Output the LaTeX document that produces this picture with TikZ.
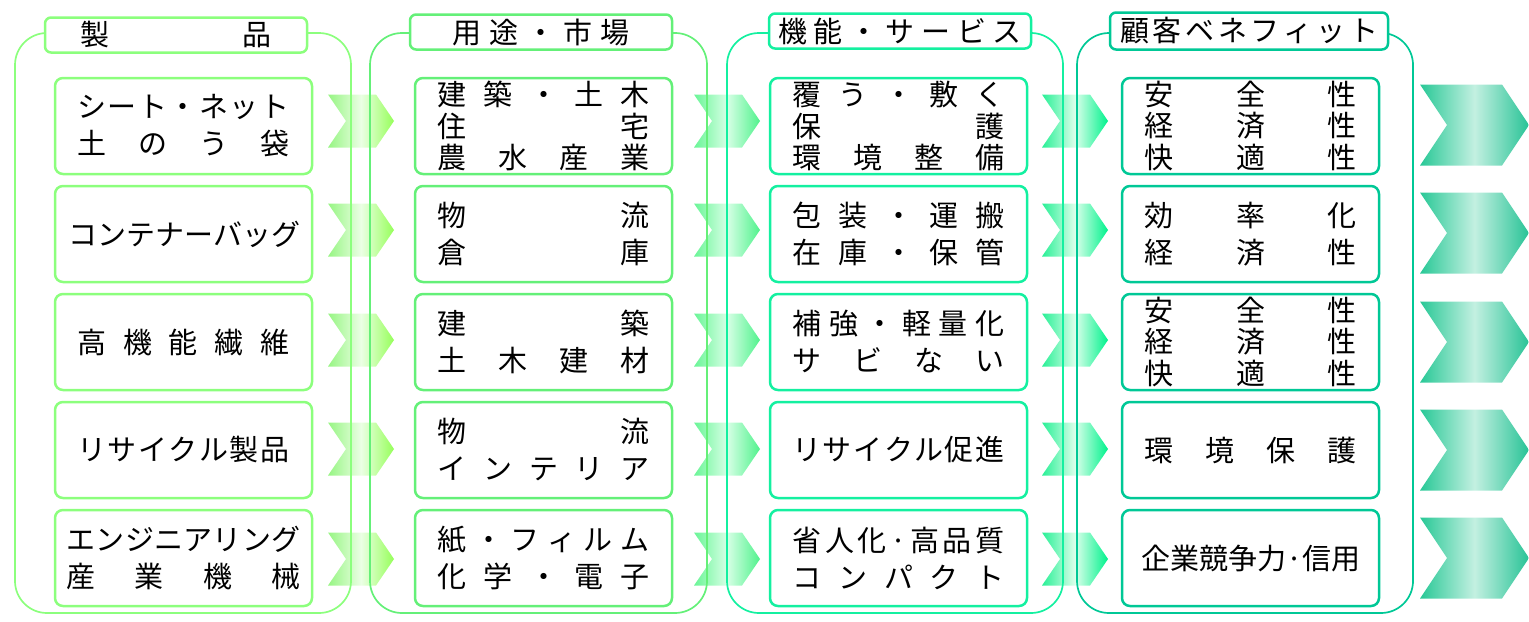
\documentclass[tikz,border=0pt]{standalone}
\usepackage{fontspec}
\newfontfamily\jpfont{Noto Sans CJK JP}
\usetikzlibrary{positioning}

\definecolor{prodc}{RGB}{140,255,125}
\definecolor{mktc}{RGB}{100,240,120}
\definecolor{funcc}{RGB}{20,240,160}
\definecolor{benc}{RGB}{0,200,150}
\definecolor{chAl}{RGB}{150,245,130}
\definecolor{chAm}{RGB}{235,255,228}
\definecolor{chAr}{RGB}{150,255,90}
\definecolor{chBl}{RGB}{105,245,150}
\definecolor{chBm}{RGB}{215,255,230}
\definecolor{chBr}{RGB}{80,242,140}
\definecolor{chCl}{RGB}{40,240,150}
\definecolor{chCm}{RGB}{220,255,235}
\definecolor{chCr}{RGB}{0,242,140}
\definecolor{chDl}{RGB}{40,200,150}
\definecolor{chDm}{RGB}{195,240,225}
\definecolor{chDr}{RGB}{40,195,150}

% spread the letters of one line over a fixed width
\newcommand\jl[2][106pt]{\makebox[#1][s]{\jlloop#2\relax}}
\def\jlloop#1#2{#1\ifx\relax#2\else\hfill\expandafter\jlloop\fi#2}

\tikzset{node distance=54pt,
    box/.style={
        draw, line width=1.25pt, rounded corners=4pt,
        minimum width=128.5pt, minimum height=48pt,
        inner sep=0pt, align=center,
        font={\jpfont\fontsize{14.5pt}{18.5pt}\selectfont}},
    tight/.style={
        font={\jpfont\fontsize{14.5pt}{15.8pt}\selectfont}},
    head/.style={
        draw, fill=white, line width=1.25pt, rounded corners=3pt,
        minimum width=131pt, minimum height=17.5pt, inner sep=0pt,
        font={\jpfont\fontsize{14.5pt}{16pt}\selectfont}},
    frame/.style={
        line width=0.85pt, rounded corners=16pt},
    prod/.style={box, draw=prodc},
    mkt/.style={box, draw=mktc},
    func/.style={box, draw=funcc},
    ben/.style={box, draw=benc}}

\begin{document}
\begin{tikzpicture}[x=0.5pt, y=-0.5pt]
    \useasboundingbox (0,0) rectangle (1529,621);

    % chevrons between the columns
    \foreach \x/\cl/\cm/\cr in {328/chAl/chAm/chAr, 694/chBl/chBm/chBr, 1042/chCl/chCm/chCr}
        \foreach \y in {121,230,340,449,559}
            \shade[left color=\cl, right color=\cr, middle color=\cm]
                (\x,\y-26.5) -- ++(48,0) -- ++(18,26.5) -- ++(-18,26.5)
                -- ++(-48,0) -- ++(18,-26.5) -- cycle;
    \foreach \y in {125,233,342,450,558}
        \shade[left color=chDl, right color=chDr, middle color=chDm]
            (1420,\y-40.5) -- ++(82,0) -- ++(27,40.5) -- ++(-27,40.5)
            -- ++(-82,0) -- ++(27,-40.5) -- cycle;

    \draw[frame, prodc] (15,33) rectangle (351,613);
    \draw[frame, mktc] (370,33) rectangle (707,613);
    \draw[frame, funcc] (727,33) rectangle (1063,613);
    \draw[frame, benc] (1077,33) rectangle (1413,613);

    \node[head, draw=prodc] (hp) at (176,35) {\jl[95.5pt]{製品}};
    \node[head, draw=mktc] (hm) at (541,32) {\jl[89pt]{用途・市場}};
    \node[head, draw=funcc] (hf) at (900,31) {\jl[122pt]{機能・サービス}};
    \node[head, draw=benc, minimum width=139pt, minimum height=18.5pt] (hb) at (1249,31) {\jl[129pt]{顧客ベネフィット}};

    % products
    \node[prod] (p1) at (183.5,126) {\jl{シート・ネット}\\\jl{土のう袋}};
    \node[prod, below of=p1] (p2) {\jl[115pt]{コンテナーバッグ}};
    \node[prod, below of=p2] (p3) {\jl{高機能繊維}};
    \node[prod, below of=p3] (p4) {\jl{リサイクル製品}};
    \node[prod, below of=p4] (p5) {\jl[117pt]{エンジニアリング}\\\jl[117pt]{産業機械}};

    % markets
    \node[mkt, tight] (m1) at (543.5,126) {\jl{建築・土木}\\\jl{住宅}\\\jl{農水産業}};
    \node[mkt, below of=m1] (m2) {\jl{物流}\\\jl{倉庫}};
    \node[mkt, below of=m2] (m3) {\jl{建築}\\\jl{土木建材}};
    \node[mkt, below of=m3] (m4) {\jl{物流}\\\jl{インテリア}};
    \node[mkt, below of=m4] (m5) {\jl{紙・フィルム}\\\jl{化学・電子}};

    % functions
    \node[func, tight] (f1) at (898.5,126) {\jl{覆う・敷く}\\\jl{保護}\\\jl{環境整備}};
    \node[func, below of=f1] (f2) {\jl{包装・運搬}\\\jl{在庫・保管}};
    \node[func, below of=f2] (f3) {\jl{補強・軽量化}\\\jl{サビない}};
    \node[func, below of=f3] (f4) {\jl{リサイクル促進}};
    \node[func, below of=f4] (f5) {\jl{省人化·高品質}\\\jl{コンパクト}};

    % benefits
    \node[ben, tight] (b1) at (1250.5,126) {\jl{安全性}\\\jl{経済性}\\\jl{快適性}};
    \node[ben, below of=b1] (b2) {\jl{効率化}\\\jl{経済性}};
    \node[ben, tight, below of=b2] (b3) {\jl{安全性}\\\jl{経済性}\\\jl{快適性}};
    \node[ben, below of=b3] (b4) {\jl{環境保護}};
    \node[ben, below of=b4] (b5) {\jl[109pt]{企業競争力·信用}};
\end{tikzpicture}
\end{document}
